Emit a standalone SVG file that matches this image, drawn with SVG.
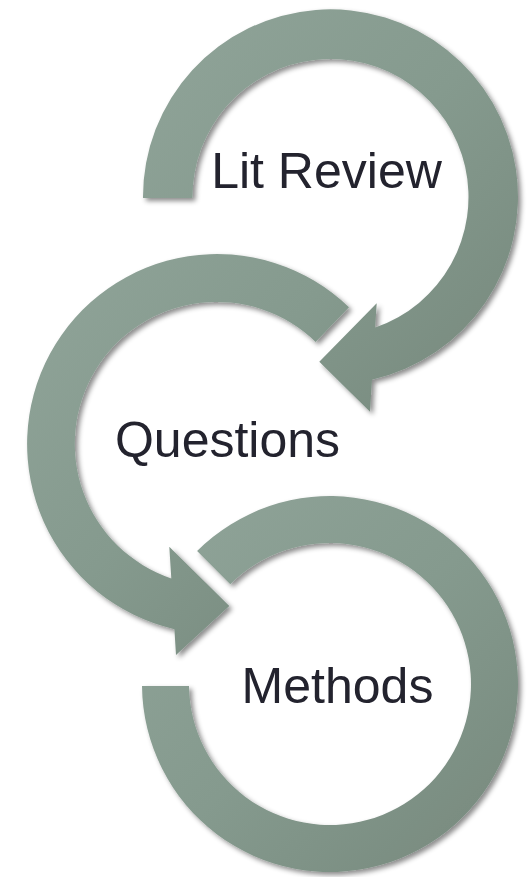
<svg xmlns="http://www.w3.org/2000/svg" width="532" height="877" viewBox="0 0 532 877">
  <defs>
    <!-- sage fill, lighter toward the upper left -->
    <linearGradient id="sage" x1="0" y1="0" x2="1" y2="1">
      <stop offset="0" stop-color="#90a499"/>
      <stop offset="0.5" stop-color="#859a8e"/>
      <stop offset="1" stop-color="#76887c"/>
    </linearGradient>
    <filter id="shadow" x="-10%" y="-10%" width="125%" height="125%">
      <feDropShadow dx="3" dy="3" stdDeviation="2.5" flood-color="#000" flood-opacity="0.45"/>
    </filter>
  </defs>
  <style>
    .ring { fill: url(#sage); filter: url(#shadow); }
    .label { font-family: "Liberation Sans", Arial, sans-serif; font-size: 50px; fill: #23232e; text-anchor: middle; }
  </style>

  <rect width="532" height="877" fill="#ffffff"/>

  <!-- Step 1: ring opening at the left, arrowhead turning down-left -->
  <g id="node-lit-review">
    <path class="ring" d="M143,198 A187.5,187.5 0 1 1 372,379.7 L370,411.7 L319.3,361.7 L376.7,303.3 L375.2,327.6 A138,138 0 1 0 192.5,198 Z"/>
    <text class="label" x="326.5" y="188">Lit Review</text>
  </g>

  <!-- Step 2: ring opening at the right, arrowhead turning down-right -->
  <g id="node-questions">
    <path class="ring" d="M349,307.3 A190,190 0 1 0 174.4,629.2 L176,655 L229.3,606 L169.3,546.7 L171.3,578.4 A142,142 0 1 1 315.6,341.9 Z"/>
    <text class="label" x="227.5" y="456.5">Questions</text>
  </g>

  <!-- Step 3: plain ring, no arrowhead -->
  <g id="node-methods">
    <path class="ring" d="M142,686 A188,188 0 1 0 197.1,551.1 L230.3,584.3 A141,141 0 1 1 189,686 Z"/>
    <text class="label" x="337.5" y="702.5">Methods</text>
  </g>

  <!-- the arrowheads of each ring act as the links between steps -->
  <g id="connectors"/>
</svg>
